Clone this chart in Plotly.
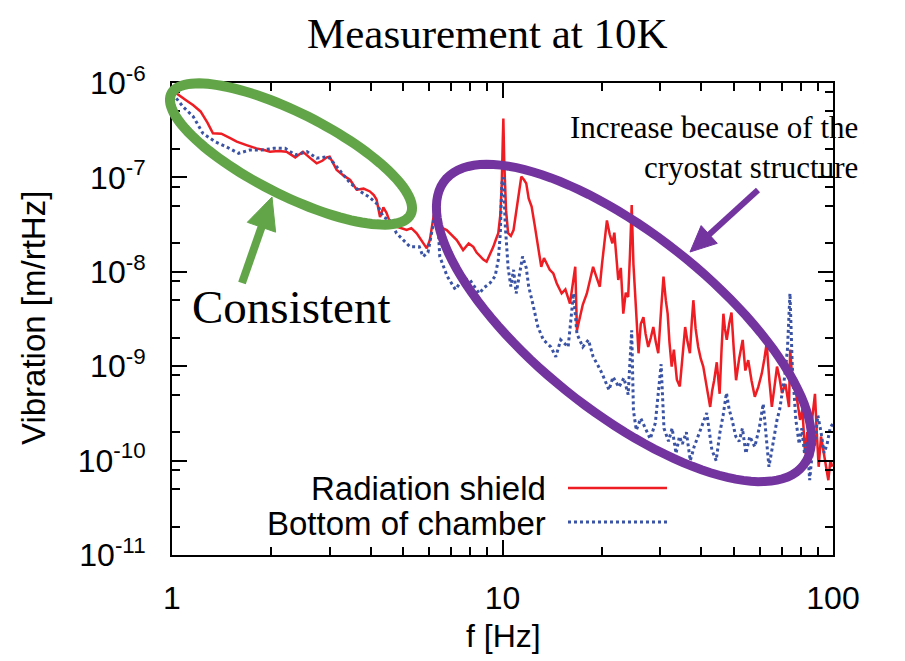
import numpy as np
import plotly.graph_objects as go

# ---------------- data ----------------
red_f = [1.00, 1.03, 1.10, 1.16, 1.22, 1.28, 1.33, 1.41, 1.50, 1.57,
         1.68, 1.80, 1.90, 1.98, 2.10, 2.22, 2.36, 2.49, 2.62, 2.74,
         2.85, 2.94, 3.00, 3.08, 3.15, 3.30, 3.46, 3.62, 3.80, 3.97,
         4.08, 4.16, 4.26, 4.36, 4.46, 4.57, 4.80, 5.13, 5.30, 5.50,
         5.69, 5.90, 6.03, 6.15, 6.25, 6.32, 6.40, 6.46, 6.78, 7.00,
         7.27, 7.45, 7.60, 7.90, 8.16, 8.35, 8.55, 8.75, 8.95, 9.15,
         9.38, 9.55, 9.71, 9.85, 9.95, 10.02, 10.06, 10.12, 10.25, 10.4,
         10.6, 10.8, 11.1, 11.4, 11.6, 11.8, 12.0, 12.25, 12.5, 12.7,
         12.9, 13.1, 13.35, 13.6, 13.9, 14.25, 14.6, 15.1, 15.5, 16.0,
         16.3, 16.6, 16.8, 17.1, 17.5, 18.0, 18.4, 18.8, 19.2, 19.7,
         20.0, 20.3, 20.7, 21.1, 21.5, 21.8, 22.2, 22.4, 22.8, 23.2,
         23.6, 24.0, 24.3, 24.6, 24.9, 25.2, 25.5, 25.8, 26.2, 26.7,
         27.1, 27.6, 28.1, 28.6, 29.1, 29.6, 30.2, 30.7, 31.2, 31.6,
         32.0, 32.5, 33.0, 33.7, 34.4, 35.0, 35.7, 36.3, 36.9, 37.4,
         37.8, 38.4, 39.1, 39.8, 40.5, 41.5, 42.5, 43.1, 43.7, 44.5,
         45.4, 46.0, 46.6, 47.1, 47.7, 48.5, 49.3, 50.1, 50.9, 52.0,
         53.3, 54.3, 55.4, 56.7, 58.0, 59.4, 60.9, 62.0, 63.0, 64.2,
         65.3, 66.5, 67.7, 68.9, 70.1, 71.8, 73.6, 74.2, 75.0, 76.3,
         77.8, 79.5, 80.8, 82.3, 83.6, 85.2, 86.7, 88.2, 89.3, 90.5,
         92.0, 93.5, 95.2, 96.8, 98.2, 99.5]
red_v = [8.0e-7, 7.8e-7, 6.6e-7, 5.8e-7, 5.0e-7, 3.8e-7, 2.93e-7, 2.9e-7, 2.6e-7, 2.39e-7,
         2.2e-7, 2.03e-7, 1.95e-7, 1.87e-7, 1.9e-7, 1.87e-7, 1.63e-7, 1.87e-7, 1.6e-7, 1.41e-7,
         1.5e-7, 1.63e-7, 1.66e-7, 1.4e-7, 1.2e-7, 1.05e-7, 9.4e-8, 7.4e-8, 7.6e-8, 7.1e-8,
         6.5e-8, 5.8e-8, 3.8e-8, 4.8e-8, 4.2e-8, 3.3e-8, 3.0e-8, 2.77e-8, 2.9e-8, 2.56e-8,
         2.17e-8, 1.77e-8, 2.17e-8, 3.5e-8, 5.0e-8, 6.25e-8, 4.0e-8, 3.0e-8, 2.77e-8, 2.5e-8,
         2.17e-8, 1.9e-8, 1.7e-8, 2.0e-8, 1.84e-8, 1.6e-8, 1.45e-8, 1.35e-8, 1.28e-8, 1.5e-8,
         1.84e-8, 2.2e-8, 2.56e-8, 4.0e-8, 8.65e-8, 2.5e-7, 4.2e-7, 1.5e-7, 4.5e-8, 2.56e-8,
         2.4e-8, 2.77e-8, 5.5e-8, 1.02e-7, 9.5e-8, 8.65e-8, 6.0e-8, 4.9e-8, 3.2e-8, 2.17e-8,
         1.5e-8, 1.13e-8, 1.4e-8, 1.22e-8, 1.05e-8, 9.6e-9, 7.5e-9, 5.9e-9, 6.5e-9, 4.6e-9,
         7e-9, 1.13e-8, 2.4e-9, 3.1e-9, 4.5e-9, 5.9e-9, 8e-9, 1.13e-8, 9e-9, 6.95e-9,
         1.2e-8, 1.8e-8, 3.5e-8, 2.5e-8, 2.0e-8, 2.6e-8, 1.33e-8, 8.2e-9, 1.1e-8, 3.6e-9,
         6e-9, 5.4e-9, 1.5e-8, 5.1e-8, 1.2e-8, 5.4e-9, 2.5e-9, 1.37e-9, 2.8e-9, 3.3e-9,
         2.2e-9, 1.6e-9, 2.0e-9, 2.6e-9, 1.8e-9, 1.37e-9, 4.0e-9, 8.9e-9, 5e-9, 3.6e-9,
         1.8e-9, 9.9e-10, 1.5e-9, 7.2e-10, 6.1e-10, 1.3e-9, 2.6e-9, 1.8e-9, 1.37e-9, 3.0e-9,
         5.0e-9, 2.5e-9, 1.6e-9, 1.2e-9, 9.9e-10, 6e-10, 3.7e-10, 5.5e-10, 7.1e-10, 1.1e-9,
         5.1e-10, 1.5e-9, 3.6e-9, 2.5e-9, 1.9e-9, 2.8e-9, 3.7e-9, 1.5e-9, 7.1e-10, 1.2e-9,
         1.9e-9, 9e-10, 1.16e-9, 7e-10, 4.75e-10, 6e-10, 8.4e-10, 1.2e-9, 1.75e-9, 7e-10,
         3.7e-10, 6e-10, 9.9e-10, 7.5e-10, 5.2e-10, 6.5e-10, 3.7e-10, 1.5e-9, 9e-10, 7.1e-10,
         4.5e-10, 2.7e-10, 3.5e-10, 1.19e-10, 2.0e-10, 1.65e-10, 3.0e-10, 5.1e-10, 2.0e-10, 8.6e-11,
         1.8e-10, 1.3e-10, 9e-11, 6.2e-11, 1.0e-10, 8.6e-11]

blue_f = [1.00, 1.02, 1.08, 1.16, 1.24, 1.35, 1.46, 1.59, 1.72, 1.87,
          2.03, 2.20, 2.36, 2.56, 2.74, 2.97, 3.15, 3.30, 3.46, 3.71,
          3.95, 4.16, 4.36, 4.57, 4.78, 4.95, 5.25, 5.60, 5.75, 5.95,
          6.15, 6.32, 6.46, 6.80, 7.20, 7.60, 7.97, 8.50, 8.80, 9.17,
          9.50, 9.71, 9.85, 9.95, 10.06, 10.2, 10.4, 10.6, 10.8, 11.0,
          11.5, 11.8, 12.0, 12.4, 12.8, 13.3, 14.0, 14.5, 15.0, 15.8,
          16.4, 16.8, 17.5, 18.2, 18.8, 19.5, 20.0, 21.0, 21.6, 22.5,
          23.3, 24.0, 24.6, 24.9, 25.4, 26.2, 27.0, 28.0, 29.0, 30.2,
          30.8, 31.8, 32.6, 33.5, 34.3, 35.0, 36.0, 37.0, 38.0, 39.0,
          40.2, 41.5, 43.0, 44.3, 45.5, 46.5, 47.6, 48.5, 49.5, 50.8,
          52.0, 53.2, 54.5, 56.0, 58.0, 59.8, 61.5, 63.0, 64.0, 65.8,
          67.7, 69.0, 70.1, 71.5, 72.8, 74.1, 75.3, 76.2, 77.2, 79.0,
          80.5, 82.0, 83.5, 85.0, 86.5, 88.0, 90.0, 92.0, 94.0, 96.0,
          98.0, 100.0]
blue_v = [7.6e-7, 7.2e-7, 5.6e-7, 4.4e-7, 2.93e-7, 2.39e-7, 2.11e-7, 1.8e-7, 1.95e-7, 1.95e-7,
          2.03e-7, 2.03e-7, 1.73e-7, 1.87e-7, 1.6e-7, 1.66e-7, 1.3e-7, 1.05e-7, 8.7e-8, 7.1e-8,
          6.2e-8, 5.3e-8, 3.8e-8, 3.5e-8, 2.56e-8, 2.26e-8, 1.84e-8, 1.84e-8, 1.45e-8, 1.6e-8,
          3.0e-8, 5.8e-8, 1.45e-8, 9e-9, 6.5e-9, 8.5e-9, 8.2e-9, 5.9e-9, 6.8e-9, 7.6e-9,
          9e-9, 1.33e-8, 2.56e-8, 8.65e-8, 1.0e-7, 3.0e-8, 1.1e-8, 7.0e-9, 1.05e-8, 5.9e-9,
          1.45e-8, 1.1e-8, 7e-9, 4.3e-9, 2.6e-9, 1.9e-9, 1.6e-9, 1.26e-9, 1.9e-9, 1.6e-9,
          5.9e-9, 2.2e-9, 1.6e-9, 1.9e-9, 1.26e-9, 1.0e-9, 8.4e-10, 5.6e-10, 7.7e-10, 6e-10,
          7.5e-10, 5e-10, 2.4e-9, 3.4e-10, 2.1e-10, 2.8e-10, 2.2e-10, 1.7e-10, 2.5e-10, 1.05e-9,
          2.2e-10, 1.6e-10, 2.2e-10, 1.19e-10, 1.8e-10, 1.5e-10, 2.0e-10, 1.0e-10, 1.4e-10, 1.8e-10,
          2.4e-10, 3.2e-10, 1.3e-10, 1.0e-10, 2.0e-10, 3.0e-10, 5.2e-10, 3.5e-10, 2.7e-10, 1.8e-10,
          1.6e-10, 2.2e-10, 1.19e-10, 1.8e-10, 1.4e-10, 2.2e-10, 4.0e-10, 1.5e-10, 8.6e-11, 1.5e-10,
          2.7e-10, 3.5e-10, 5.2e-10, 8e-10, 1.5e-9, 5.9e-9, 1e-9, 5e-10, 2.7e-10, 1.5e-10,
          2.2e-10, 1.19e-10, 1.6e-10, 6.2e-11, 1.2e-10, 1.5e-10, 3e-10, 2e-10, 1.2e-10, 1.5e-10,
          2.2e-10, 2.5e-10]

series_names = ["Radiation shield", "Bottom of chamber"]
x_tickvals = [1, 10, 100]
x_ticktext = ["1", "10", "100"]
y_exponents = [-11, -10, -9, -8, -7, -6]

# ---------------- layout constants ----------------
OFF = 8                       # page body margin offset
W, H = 905 - OFF, 661 - OFF   # figure size
PL, PR, PT, PB = 172, 833, 83, 555   # plot area in window pixels
L, T = PL - OFF, PT - OFF
R, B = W - (PR - OFF), H - (PB - OFF)
PW, PH = PR - PL, PB - PT
SANS = "Liberation Sans"
SERIF = "Liberation Serif"
RED = "#EE1D23"
BLUE = "#3A53A4"
GREEN = "#62A549"
PURPLE = "#7434A0"


def px(x, y):
    """window pixel -> paper coordinates"""
    return (x - PL) / PW, (PB - y) / PH


def ellipse_path(cx, cy, a, b, deg, n=120):
    t = np.linspace(0, 2 * np.pi, n)
    th = np.radians(deg)
    xs = cx + a * np.cos(t) * np.cos(th) - b * np.sin(t) * np.sin(th)
    ys = cy + a * np.cos(t) * np.sin(th) + b * np.sin(t) * np.cos(th)
    pts = [px(x, y) for x, y in zip(xs, ys)]
    return "M " + " L ".join(f"{p[0]:.5f},{p[1]:.5f}" for p in pts) + " Z"


def arrow_shapes(tail, tip, color, width, hlen, hw):
    tx, ty = tail
    hx, hy = tip
    d = np.array([hx - tx, hy - ty], float)
    d /= np.linalg.norm(d)
    perp = np.array([-d[1], d[0]])
    base = np.array([hx, hy]) - hlen * d
    c1 = base + hw * perp
    c2 = base - hw * perp
    a0 = px(tx, ty)
    a1 = px(*(base + 0.3 * hlen * d))
    p0, p1, p2 = px(hx, hy), px(*c1), px(*c2)
    return [
        dict(type="line", xref="paper", yref="paper", x0=a0[0], y0=a0[1], x1=a1[0], y1=a1[1],
             line=dict(color=color, width=width), layer="above"),
        dict(type="path", xref="paper", yref="paper",
             path=f"M {p0[0]},{p0[1]} L {p1[0]},{p1[1]} L {p2[0]},{p2[1]} Z",
             fillcolor=color, line=dict(color=color, width=1), layer="above"),
    ]


fig = go.Figure()
fig.add_trace(go.Scatter(x=red_f, y=red_v, mode="lines", name=series_names[0],
                         line=dict(color=RED, width=2.5), showlegend=False))
fig.add_trace(go.Scatter(x=blue_f, y=blue_v, mode="lines", name=series_names[1],
                         line=dict(color=BLUE, width=3, dash="dot"), showlegend=False))

shapes = []
shapes.append(dict(type="path", xref="paper", yref="paper",
                   path=ellipse_path(291, 154, 134, 41, 26.8),
                   line=dict(color=GREEN, width=10), layer="above"))
shapes.append(dict(type="path", xref="paper", yref="paper",
                   path=ellipse_path(624, 323, 229, 89, 38.5),
                   line=dict(color=PURPLE, width=9), layer="above"))
shapes += arrow_shapes((242, 283), (272, 197), GREEN, 8, 32, 15)
shapes += arrow_shapes((758, 190), (690, 252), PURPLE, 6, 26, 12)

# legend samples
l0, l1 = px(568, 488), px(667, 488)
shapes.append(dict(type="line", xref="paper", yref="paper", x0=l0[0], y0=l0[1], x1=l1[0], y1=l1[1],
                   line=dict(color=RED, width=2.5)))
b0, b1 = px(568, 522), px(667, 522)
shapes.append(dict(type="line", xref="paper", yref="paper", x0=b0[0], y0=b0[1], x1=b1[0], y1=b1[1],
                   line=dict(color=BLUE, width=3, dash="dot")))

annotations = []


def add_text(text, x, y, size, family, xanchor="center", align="center", color="black"):
    p = px(x, y)
    annotations.append(dict(text=text, x=p[0], y=p[1], xref="paper", yref="paper",
                            showarrow=False, xanchor=xanchor, yanchor="middle", align=align,
                            font=dict(family=family, size=size, color=color)))


add_text("Measurement at 10K", 487, 33, 43, SERIF)
add_text("Consistent", 190, 307, 47, SERIF, xanchor="left")
add_text("Increase because of the<br>cryostat structure", 860, 147, 31, SERIF,
         xanchor="right", align="right")
add_text(series_names[0], 548, 488, 33, SANS, xanchor="right")
add_text(series_names[1], 548, 523, 33, SANS, xanchor="right")
add_text("f [Hz]", 503, 636, 32, SANS)
p = px(33, 318)
annotations.append(dict(text="Vibration [m/rtHz]", x=p[0], y=p[1], xref="paper", yref="paper",
                        showarrow=False, textangle=-90, xanchor="center", yanchor="middle",
                        font=dict(family=SANS, size=33, color="black")))

y_minor = [m * 10.0 ** e for e in range(-11, -6) for m in (2, 5, 8)]
x_minor = [m * 10.0 ** e for e in range(0, 2) for m in range(2, 10)]

fig.update_layout(
    width=W, height=H,
    margin=dict(l=L, r=R, t=T, b=B),
    paper_bgcolor="white", plot_bgcolor="white",
    shapes=shapes, annotations=annotations, showlegend=False,
    xaxis=dict(type="log", range=[0, 2], tickmode="array", tickvals=x_tickvals, ticktext=x_ticktext,
               ticks="inside", ticklen=15, tickwidth=2, tickcolor="black",
               showline=True, linecolor="black", linewidth=2, mirror="allticks",
               showgrid=False, zeroline=False, ticklabelstandoff=14,
               tickfont=dict(family=SANS, size=32, color="black"),
               minor=dict(tickmode="array", tickvals=x_minor, ticks="inside", ticklen=8,
                          tickwidth=2, tickcolor="black", showgrid=False)),
    yaxis=dict(type="log", range=[-11, -6], tickmode="array",
               tickvals=[10.0 ** e for e in y_exponents],
               ticktext=[f"10<sup>{e}</sup>" for e in y_exponents],
               ticks="inside", ticklen=15, tickwidth=2, tickcolor="black",
               showline=True, linecolor="black", linewidth=2, mirror="allticks",
               showgrid=False, zeroline=False, ticklabelstandoff=18,
               tickfont=dict(family=SANS, size=32, color="black"),
               minor=dict(tickmode="array", tickvals=y_minor, ticks="inside", ticklen=8,
                          tickwidth=2, tickcolor="black", showgrid=False)),
)

fig.write_html("out.html")
